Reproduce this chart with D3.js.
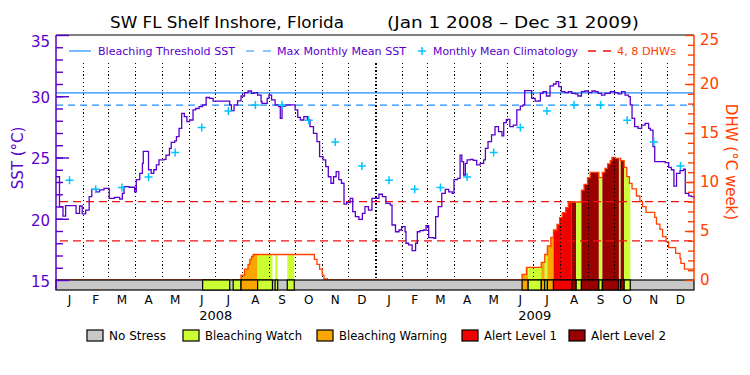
<!DOCTYPE html>
<html>
<head>
<meta charset="utf-8">
<script src="https://cdn.jsdelivr.net/npm/d3@7"></script>
<style>
  body { margin: 0; background: #fff; }
  text { font-family: "DejaVu Sans", sans-serif; }
</style>
</head>
<body>
<div class="chart"></div>
<script>
var svgWidth = 750;
var svgHeight = 375;

// plot box (pixels)
var plot = { left: 56, right: 694, top: 35, bottom: 280, barBottom: 290 };

// ---- data ----
// SST samples: days since Jan 1 2008, value in deg C
var sstDay = [0,2,4,8,11,19,23,27,30,34,38,41,46,50,55,59,61,67,73,76,78,84,90,92,96,99,100,105,106,109,112,115,118,124,126,130,132,136,138,141,144,147,150,153,157,160,164,168,172,176,180,187,195,199,201,204,208,212,216,220,224,227,231,235,
  236,240,242,244,247,251,255,257,259,263,268,272,274,277,280,284,288,291,295,299,302,306,309,312,315,318,321,324,327,330,333,337,340,343,347,351,354,358,362,366,370,374,378,383,385,389,393,396,400,401,404,408,412,414,417,421,424,427,433,435,438,442,446,450,454,456,460,463,465,467,469,471,475,
  478,482,486,490,492,495,499,503,507,511,513,516,520,524,528,532,535,537,541,545,549,553,555,558,562,566,570,573,576,579,583,587,591,595,598,602,606,610,614,618,621,625,629,635,640,644,648,652,656,658,660,663,667,671,675,679,681,684,686,694,698,702,705,708,711,715,719,721,725,728,731];
var sstValue = [23.43,23.43,20.99,20.22,21.07,21.07,20.44,21.04,20.4,20.71,21.8,22.4,22.2,22.35,22.48,22.48,21.67,21.75,21.6,22.07,22.62,22.57,22.2,23.2,23.7,24.52,25.5,25.5,24.0,23.7,24.0,24.4,24.8,24.85,25.2,25.75,26.24,26.35,26.7,27.38,28.6,28.33,27.93,28.06,28.88,29.0,29.15,29.29,29.9,29.83,29.6,29.6,29.6,29.29,28.82,29.29,29.63,30.02,30.29,30.43,30.24,30.29,30.1,29.56,
  29.42,29.42,29.83,30.1,29.7,29.29,29.15,28.2,29.2,29.29,29.29,29.29,28.88,28.28,28.06,28.33,28.06,27.52,26.97,26.29,25.07,24.8,24.25,23.43,22.9,23.43,23.84,23.2,22.9,21.2,21.31,21.67,20.58,20.17,19.95,20.44,20.99,20.71,21.67,21.67,22.0,21.8,21.26,21.12,19.49,18.94,19.08,19.35,18.94,18.0,17.87,17.4,18.0,18.94,19.03,19.08,19.44,18.46,18.4,20.17,20.99,22.07,22.4,22.2,22.07,23.2,23.3,25.2,24.66,23.57,24.52,24.8,24.85,
  24.76,24.4,24.52,24.8,25.75,26.29,26.84,27.52,27.11,26.76,27.84,28.11,27.52,27.65,28.88,29.2,29.29,30.46,30.46,29.83,29.6,29.63,30.24,30.38,30.02,30.84,31.0,31.2,30.78,30.38,30.29,30.38,30.24,30.2,30.02,30.38,30.43,30.29,30.43,30.38,30.24,30.1,30.24,30.38,30.29,30.2,30.38,30.1,29.97,29.29,28.2,27.52,27.38,27.65,27.79,27.38,27.24,25.88,24.66,24.66,24.58,24.2,24.0,22.67,23.7,23.93,24.04,22.07,21.86,21.8,21.67];

// Degree Heating Weeks (step values), days since Jan 1 2008
var dhwDay = [0,212,216,220,222,224,226,296,299,302,305,307,311,
  534,539,556,560,563,567,570,574,577,580,584,587,590,602,605,609,612,622,626,629,632,635,637,641,647,651,654,657,660,665,669,672,676,686,688,692,695,699,702,710,715,716,720,731];
var dhwValue = [0,0.5,1.1,1.6,2.1,2.4,2.6,2.1,1.6,1.1,0.5,0.1,0,
  0.58,1.29,1.8,2.6,3.47,4.35,5.1,5.68,6.36,6.87,7.38,7.89,7.96,9.18,9.76,10.44,10.99,10.44,10.99,11.39,11.84,12.18,12.52,12.41,12.18,11.5,10.54,9.86,9.29,8.57,7.99,7.48,6.91,6.4,5.71,5.17,4.42,3.91,3.3,2.72,2.2,1.7,1.1,1.1];

// stress level periods (1 watch, 2 warning, 3 alert 1, 4 alert 2)
var stressStart = [168,203,212,231,251,265, 534,541,556,560,563,570,591,596,602,622,626,645,647,651];
var stressEnd   = [199,212,231,248,254,273, 541,556,560,563,570,591,596,602,622,626,645,647,651,658];
var stressLevel = [1,1,2,1,1,1, 2,1,2,1,2,3,4,1,4,1,4,1,4,1];

// monthly mean climatology (Jan..Dec)
var climatology = [23.15,22.4,22.55,23.4,25.4,27.45,28.8,29.28,29.28,28.05,26.27,24.3];
var maxMonthlyMean = 29.28;
var bleachingThreshold = 30.28;
var dhwLevels = [4, 8];

var monthLetters = ["J","F","M","A","M","J","J","A","S","O","N","D"];
var years = [2008, 2009];

var stressNames = ["No Stress","Bleaching Watch","Bleaching Warning","Alert Level 1","Alert Level 2"];
var stressColors = ["#c8c8c8","#ccff33","#faa500","#f00000","#990000"];

var purple = "#5a00cc";
var orange = "#ff4000";
var blue = "#1e90ff";
var cyan = "#00c4ff";
var red = "#f01010";

// ---- helpers ----
var t0 = Date.UTC(2008, 0, 1);
function dayDate(d) { return new Date(t0 + d * 864e5); }

var svg = d3.select(".chart")
  .append("svg")
  .attr("width", svgWidth)
  .attr("height", svgHeight);

var x = d3.scaleUtc()
  .domain([new Date(Date.UTC(2008, 0, 1)), new Date(Date.UTC(2010, 0, 1))])
  .range([plot.left, plot.right]);
var ySst = d3.scaleLinear().domain([15, 35]).range([plot.bottom, plot.top]);
var yDhw = d3.scaleLinear().domain([0, 25]).range([plot.bottom, plot.top]);

var dhwData = dhwDay.map((d, i) => ({ date: dayDate(d), v: dhwValue[i] }));
var sstData = sstDay.map((d, i) => ({ date: dayDate(d), v: sstValue[i] }));

// title
svg.append("text").attr("x", 110).attr("y", 28)
  .attr("font-size", 16).attr("textLength", 234).attr("lengthAdjust", "spacingAndGlyphs")
  .text("SW FL Shelf Inshore, Florida");
svg.append("text").attr("x", 387).attr("y", 28)
  .attr("font-size", 16).attr("textLength", 252).attr("lengthAdjust", "spacingAndGlyphs")
  .text("(Jan 1 2008 \u2013 Dec 31 2009)");

// top border
svg.append("line")
  .attr("x1", plot.left).attr("x2", plot.right)
  .attr("y1", plot.top).attr("y2", plot.top)
  .attr("stroke", "#000").attr("stroke-width", 1.2);

// DHW fills coloured by stress level, one clipped area per period
var dhwArea = d3.area()
  .x(d => x(d.date))
  .y0(plot.bottom)
  .y1(d => yDhw(d.v))
  .curve(d3.curveStepAfter);

var defs = svg.append("defs");
stressStart.forEach(function(s, i) {
  defs.append("clipPath").attr("id", "seg" + i)
    .append("rect")
    .attr("x", x(dayDate(s)))
    .attr("width", x(dayDate(stressEnd[i])) - x(dayDate(s)))
    .attr("y", plot.top).attr("height", plot.bottom - plot.top);
  svg.append("path")
    .datum(dhwData)
    .attr("d", dhwArea)
    .attr("fill", stressColors[stressLevel[i]])
    .attr("clip-path", "url(#seg" + i + ")");
});

// month grid (dotted), year boundary heavier
var months = d3.utcMonth.range(new Date(Date.UTC(2008, 1, 1)), new Date(Date.UTC(2010, 0, 1)));
svg.append("g").selectAll("line")
  .data(months)
  .enter()
  .append("line")
  .attr("x1", d => Math.round(x(d)) + 0.5).attr("x2", d => Math.round(x(d)) + 0.5)
  .attr("y1", 63).attr("y2", plot.bottom)
  .attr("stroke", "#000")
  .attr("shape-rendering", "crispEdges")
  .attr("stroke-width", d => d.getUTCMonth() === 0 ? 2 : 1)
  .attr("stroke-dasharray", d => d.getUTCMonth() === 0 ? "1.5,2" : "1.2,2.6");

// reference lines
svg.append("line")
  .attr("x1", plot.left).attr("x2", plot.right)
  .attr("y1", ySst(bleachingThreshold)).attr("y2", ySst(bleachingThreshold))
  .attr("stroke", blue).attr("stroke-width", 1.2);
svg.append("line")
  .attr("x1", plot.left).attr("x2", plot.right)
  .attr("y1", ySst(maxMonthlyMean)).attr("y2", ySst(maxMonthlyMean))
  .attr("stroke", blue).attr("stroke-width", 1.2).attr("stroke-dasharray", "7,5");
svg.append("g").selectAll("line")
  .data(dhwLevels)
  .enter()
  .append("line")
  .attr("x1", plot.left + 4).attr("x2", plot.right)
  .attr("y1", d => yDhw(d)).attr("y2", d => yDhw(d))
  .attr("stroke", red).attr("stroke-width", 1.3).attr("stroke-dasharray", "8,5");

// DHW line
svg.append("path")
  .datum(dhwData)
  .attr("d", d3.line().x(d => x(d.date)).y(d => yDhw(d.v)).curve(d3.curveStepAfter))
  .attr("fill", "none").attr("stroke", orange).attr("stroke-width", 1.3);

// SST line
svg.append("path")
  .datum(sstData)
  .attr("d", d3.line().x(d => x(d.date)).y(d => ySst(d.v)).curve(d3.curveStepAfter))
  .attr("fill", "none").attr("stroke", purple).attr("stroke-width", 1.3);

// climatology crosses, mid-month for each year
var crossData = [];
years.forEach(function(yr) {
  climatology.forEach(function(v, m) {
    var a = Date.UTC(yr, m, 1), b = Date.UTC(yr, m + 1, 1);
    crossData.push({ date: new Date((a + b) / 2), v: v });
  });
});
svg.append("g").selectAll("path")
  .data(crossData)
  .enter()
  .append("path")
  .attr("transform", d => `translate(${x(d.date)},${ySst(d.v)})`)
  .attr("d", "M-4,0H4M0,-4V4")
  .attr("stroke", cyan).attr("stroke-width", 1.5);

// stress bar
svg.append("rect")
  .attr("x", plot.left).attr("y", plot.bottom)
  .attr("width", plot.right - plot.left).attr("height", plot.barBottom - plot.bottom)
  .attr("fill", stressColors[0]).attr("stroke", "#000").attr("stroke-width", 1.2);
svg.append("g").selectAll("rect")
  .data(stressStart)
  .enter()
  .append("rect")
  .attr("x", (d) => x(dayDate(d)))
  .attr("y", plot.bottom)
  .attr("width", (d, i) => x(dayDate(stressEnd[i])) - x(dayDate(d)))
  .attr("height", plot.barBottom - plot.bottom)
  .attr("fill", (d, i) => stressColors[stressLevel[i]])
  .attr("stroke", "#000").attr("stroke-width", 1.2);

// left axis (SST): minor ticks every 1, major every 5, drawn inward
svg.append("g")
  .attr("transform", `translate(${plot.left},0)`)
  .call(d3.axisLeft(ySst).tickValues(d3.range(16, 35)).tickSize(-7).tickFormat(""))
  .call(g => g.select(".domain").remove())
  .call(g => g.selectAll("line").attr("stroke", purple).attr("stroke-width", 1.4));
var leftAxis = svg.append("g")
  .attr("transform", `translate(${plot.left},0)`)
  .call(d3.axisLeft(ySst).tickValues([15, 20, 25, 30, 35]).tickSize(-13).tickPadding(6))
  .call(g => g.select(".domain").remove());
leftAxis.selectAll("line").attr("stroke", purple).attr("stroke-width", 1.4);
leftAxis.selectAll("text").attr("fill", purple).attr("font-size", 15)
  .attr("font-family", "DejaVu Sans").attr("dy", d => d === 35 ? "0.75em" : "0.42em");
svg.append("line")
  .attr("x1", plot.left).attr("x2", plot.left)
  .attr("y1", plot.top).attr("y2", plot.barBottom)
  .attr("stroke", purple).attr("stroke-width", 1.5);

// right axis (DHW)
svg.append("g")
  .attr("transform", `translate(${plot.right},0)`)
  .call(d3.axisRight(yDhw).tickValues(d3.range(1, 25)).tickSize(-6).tickFormat(""))
  .call(g => g.select(".domain").remove())
  .call(g => g.selectAll("line").attr("stroke", orange).attr("stroke-width", 1.4));
var rightAxis = svg.append("g")
  .attr("transform", `translate(${plot.right},0)`)
  .call(d3.axisRight(yDhw).tickValues([0, 5, 10, 15, 20, 25]).tickSize(-9).tickPadding(6))
  .call(g => g.select(".domain").remove());
rightAxis.selectAll("line").attr("stroke", orange).attr("stroke-width", 1.4);
rightAxis.selectAll("text").attr("fill", orange).attr("font-size", 15)
  .attr("font-family", "DejaVu Sans").attr("dy", d => d === 25 ? "0.6em" : "0.32em");
svg.append("line")
  .attr("x1", plot.right).attr("x2", plot.right)
  .attr("y1", plot.top).attr("y2", plot.bottom)
  .attr("stroke", orange).attr("stroke-width", 1.5);

// axis titles
svg.append("text")
  .attr("transform", "translate(23,158) rotate(-90)")
  .attr("text-anchor", "middle").attr("font-size", 15).attr("fill", purple)
  .text("SST (\u00b0C)");
svg.append("text")
  .attr("transform", "translate(726,162) rotate(90)")
  .attr("text-anchor", "middle").attr("font-size", 15).attr("fill", orange)
  .text("DHW (\u00b0C week)");

// month letters & years
var allMonths = d3.utcMonth.range(new Date(Date.UTC(2008, 0, 1)), new Date(Date.UTC(2010, 0, 1)));
svg.append("g").selectAll("text")
  .data(allMonths)
  .enter()
  .append("text")
  .attr("x", d => (x(d) + x(d3.utcMonth.offset(d, 1))) / 2)
  .attr("y", 304)
  .attr("text-anchor", "middle").attr("font-size", 12)
  .text(d => monthLetters[d.getUTCMonth()]);
svg.append("g").selectAll("text")
  .data(years)
  .enter()
  .append("text")
  .attr("x", d => (x(new Date(Date.UTC(d, 0, 1))) + x(new Date(Date.UTC(d + 1, 0, 1)))) / 2)
  .attr("y", 320)
  .attr("text-anchor", "middle").attr("font-size", 13)
  .text(d => d);

// top legend
var lg = svg.append("g");
lg.append("line").attr("x1", 69).attr("x2", 91).attr("y1", 51).attr("y2", 51)
  .attr("stroke", blue).attr("stroke-width", 1.2);
lg.append("text").attr("x", 98).attr("y", 55).attr("font-size", 11).attr("fill", purple)
  .attr("textLength", 137).attr("lengthAdjust", "spacingAndGlyphs").text("Bleaching Threshold SST");
lg.append("line").attr("x1", 246).attr("x2", 271).attr("y1", 51).attr("y2", 51)
  .attr("stroke", blue).attr("stroke-width", 1.2).attr("stroke-dasharray", "8,9");
lg.append("text").attr("x", 277).attr("y", 55).attr("font-size", 11).attr("fill", purple)
  .attr("textLength", 129).attr("lengthAdjust", "spacingAndGlyphs").text("Max Monthly Mean SST");
lg.append("path").attr("transform", "translate(422,51)").attr("d", "M-4,0H4M0,-4V4")
  .attr("stroke", cyan).attr("stroke-width", 1.5);
lg.append("text").attr("x", 433).attr("y", 55).attr("font-size", 11).attr("fill", purple)
  .attr("textLength", 145).attr("lengthAdjust", "spacingAndGlyphs").text("Monthly Mean Climatology");
lg.append("line").attr("x1", 588).attr("x2", 611).attr("y1", 51).attr("y2", 51)
  .attr("stroke", red).attr("stroke-width", 1.3).attr("stroke-dasharray", "8,7");
lg.append("text").attr("x", 617).attr("y", 55).attr("font-size", 11).attr("fill", orange)
  .attr("textLength", 59).attr("lengthAdjust", "spacingAndGlyphs").text("4, 8 DHWs");

// bottom legend
var legendX = [87, 183, 317, 462, 569];
var legendW = [57, 97, 108, 73, 75];
var bl = svg.append("g").selectAll("g")
  .data(stressNames)
  .enter()
  .append("g")
  .attr("transform", (d, i) => `translate(${legendX[i]},330)`);
bl.append("rect").attr("width", 16).attr("height", 11)
  .attr("fill", (d, i) => stressColors[i]).attr("stroke", "#000").attr("stroke-width", 1.2);
bl.append("text").attr("x", 22).attr("y", 10).attr("font-size", 12)
  .attr("textLength", (d, i) => legendW[i]).attr("lengthAdjust", "spacingAndGlyphs")
  .text(d => d);
</script>
</body>
</html>
